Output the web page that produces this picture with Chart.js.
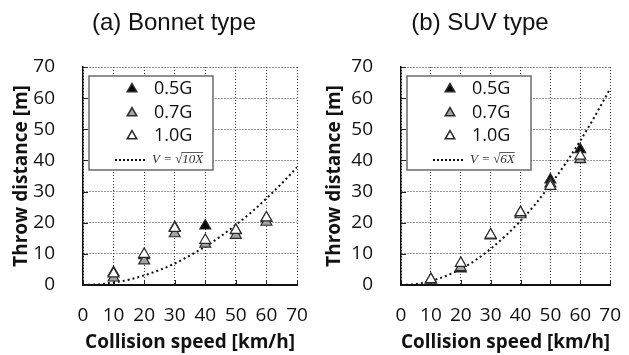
<!DOCTYPE html>
<html><head><meta charset="utf-8">
<script src="https://cdn.jsdelivr.net/npm/chart.js@4.4.1/dist/chart.umd.min.js"></script>
<style>
html,body{margin:0;padding:0;background:#fff;overflow:hidden;width:629px;height:355px;position:relative}
canvas{position:absolute;top:0}
#c1{left:0}
#c2{left:320px}
</style></head><body>
<canvas id="c1" width="348" height="355"></canvas>
<canvas id="c2" width="320" height="355"></canvas>
<script>
// ---- data ----
const speeds = [10, 20, 30, 40, 50, 60];               // collision speed [km/h]
const bonnet05 = [4.0, 9.5, 18.5, 19.0, 17.5, 21.5];   // 0.5G throw distance [m]
const bonnet07 = [2.3, 7.8, 16.5, 13.2, 16.0, 20.2];   // 0.7G
const bonnet10 = [3.6, 9.9, 18.2, 14.4, 17.6, 21.6];   // 1.0G
const suv05 = [1.7, 5.2, 16.0, 23.2, 33.8, 43.5];
const suv07 = [1.7, 5.6, 15.8, 22.6, 32.5, 40.3];
const suv10 = [1.8, 7.0, 16.1, 23.3, 31.7, 41.4];
const curveSpeeds = [0, 5, 10, 15, 20, 25, 30, 35, 40, 45, 50, 55, 60, 65, 70];
const bonnetCurve = [0, 0.2, 0.8, 1.7, 3.1, 4.8, 6.9, 9.5, 12.3, 15.6, 19.3, 23.3, 27.8, 32.6, 37.8];
const suvCurve = [0, 0.3, 1.3, 2.9, 5.1, 8.0, 11.6, 15.8, 20.6, 26.0, 32.2, 38.9, 46.3, 54.4, 63.0];
const seriesLabels = ['0.5G', '0.7G', '1.0G'];
const bonnetFormula = ['V = \u221A', '10X'];
const suvFormula = ['V = \u221A', '6X'];
const panelTitles = ['(a) Bonnet type', '(b) SUV type'];
const xTitle = 'Collision speed [km/h]';
const yTitle = 'Throw distance [m]';

const pts = (xs, ys) => xs.map((x, i) => ({x, y: ys[i]}));

const panelTitle = {
  id: 'panelTitle',
  afterDraw(chart, args, opts) {
    const ctx = chart.ctx;
    ctx.save();
    ctx.fillStyle = '#111';
    ctx.font = '24px "Liberation Sans"';
    ctx.textAlign = 'center'; ctx.textBaseline = 'middle';
    ctx.fillText(opts.text, opts.x, opts.y);
    ctx.restore();
  }
};

const innerTicks = {
  id: 'innerTicks',
  beforeDatasetsDraw(chart) {
    const {ctx, chartArea: a, scales: {x, y}} = chart;
    ctx.save();
    ctx.strokeStyle = '#222'; ctx.lineWidth = 1;
    ctx.beginPath();
    x.ticks.forEach(t => { const px = Math.round(x.getPixelForValue(t.value)) + 0.5; ctx.moveTo(px, a.bottom); ctx.lineTo(px, a.bottom - 5); });
    y.ticks.forEach(t => { const py = Math.round(y.getPixelForValue(t.value)) + 0.5; ctx.moveTo(a.left, py); ctx.lineTo(a.left + 5, py); });
    ctx.stroke();
    ctx.restore();
  }
};

const boxLegend = {
  id: 'boxLegend',
  afterDatasetsDraw(chart, args, opts) {
    const {ctx, chartArea: a} = chart;
    const x0 = a.left + opts.dx, y0 = a.top + opts.dy;
    ctx.save();
    ctx.fillStyle = '#fff'; ctx.strokeStyle = '#6b6b6b'; ctx.lineWidth = 1.5;
    ctx.fillRect(x0, y0, opts.w, opts.h);
    ctx.strokeRect(x0, y0, opts.w, opts.h);
    const rows = [12, 36, 59, 84];
    chart.data.datasets.forEach((ds, i) => {
      const yy = y0 + rows[i];
      if (ds.showLine) {
        ctx.save();
        ctx.strokeStyle = '#111'; ctx.lineWidth = 2; ctx.setLineDash([2, 2]);
        ctx.beginPath(); ctx.moveTo(x0 + 26, yy); ctx.lineTo(x0 + 58, yy); ctx.stroke();
        ctx.restore();
        ctx.fillStyle = '#333';
        ctx.font = 'italic 13px "Liberation Serif"';
        ctx.textBaseline = 'middle'; ctx.textAlign = 'left';
        const [a1, a2] = opts.formula;
        const w1 = ctx.measureText(a1).width;
        const w2 = ctx.measureText(a2).width;
        ctx.fillText(a1, x0 + 63, yy);
        ctx.fillText(a2, x0 + 63 + w1, yy);
        ctx.strokeStyle = '#333'; ctx.lineWidth = 0.8;
        ctx.beginPath(); ctx.moveTo(x0 + 63 + w1 - 1, yy - 7.5); ctx.lineTo(x0 + 63 + w1 + w2, yy - 7.5); ctx.stroke();
      } else {
        ctx.fillStyle = ds.backgroundColor; ctx.strokeStyle = ds.borderColor;
        Chart.helpers.drawPoint(ctx, {pointStyle: 'triangle', radius: 5.5, borderWidth: 1, rotation: 0}, x0 + 43, yy + 1);
        ctx.fillStyle = '#111';
        ctx.font = '18px "Open Sans"';
        ctx.textBaseline = 'middle'; ctx.textAlign = 'left';
        ctx.fillText(ds.label, x0 + 65, yy + 1);
      }
    });
    ctx.restore();
  }
};

function makeChart(id, title, titleX, s05, s07, s10, curve, formula, yAxisW, rightPad, yTitlePad) {
  const mk = (label, data, bg, order) => ({
    label, data: pts(speeds, data), backgroundColor: bg, borderColor: '#2b2b2b',
    pointStyle: 'triangle', pointRadius: 6.3, pointBorderWidth: 1.2, order
  });
  return new Chart(document.getElementById(id), {
    type: 'scatter',
    data: {
      datasets: [
        mk(seriesLabels[0], s05, '#000000', 3),
        mk(seriesLabels[1], s07, '#a5a5a5', 2),
        mk(seriesLabels[2], s10, '#ffffff', 1),
        {label: 'curve', data: pts(curveSpeeds, curve), showLine: true, pointRadius: 0,
         borderColor: '#111', borderWidth: 2, borderDash: [2, 3], tension: 0.4,
         cubicInterpolationMode: 'monotone', fill: false, order: 4}
      ]
    },
    options: {
      responsive: false, animation: false, devicePixelRatio: 1,
      layout: {padding: {left: 0, right: rightPad, top: 67, bottom: 0}},
      plugins: {
        legend: {display: false}, tooltip: {enabled: false}, title: {display: false},
        panelTitle: {text: title, x: titleX, y: 23},
        boxLegend: {dx: 6, dy: 9, w: 124, h: 94, formula}
      },
      scales: {
        x: {
          type: 'linear', min: 0, max: 70,
          ticks: {stepSize: 10, padding: 19, color: '#111', font: {family: '"Open Sans"', size: 19}},
          grid: {color: '#333', drawTicks: false, lineWidth: 1},
          border: {display: true, color: '#111', width: 2, dash: [1, 2]},
          title: {display: true, text: xTitle, color: '#111',
                  font: {family: '"Open Sans"', size: 19, weight: 'bold'}, padding: {top: 0, bottom: 1}},
          afterFit: s => { s.height = 70; }
        },
        y: {
          type: 'linear', min: 0, max: 70,
          ticks: {stepSize: 10, padding: 28, color: '#111', font: {family: '"Open Sans"', size: 19}},
          grid: {color: '#333', drawTicks: false, lineWidth: 1},
          border: {display: true, color: '#111', width: 1.5, dash: [1, 2]},
          title: {display: true, text: yTitle, color: '#111',
                  font: {family: '"Open Sans"', size: 19, weight: 'bold'}, padding: {top: yTitlePad, bottom: 0}},
          afterFit: s => { s.width = yAxisW; }
        }
      }
    },
    plugins: [innerTicks, boxLegend, panelTitle]
  });
}

makeChart('c1', panelTitles[0], 174, bonnet05, bonnet07, bonnet10, bonnetCurve, bonnetFormula, 83, 51, 10.5);
makeChart('c2', panelTitles[1], 160, suv05, suv07, suv10, suvCurve, suvFormula, 81, 26, 3);
</script>
</body></html>
